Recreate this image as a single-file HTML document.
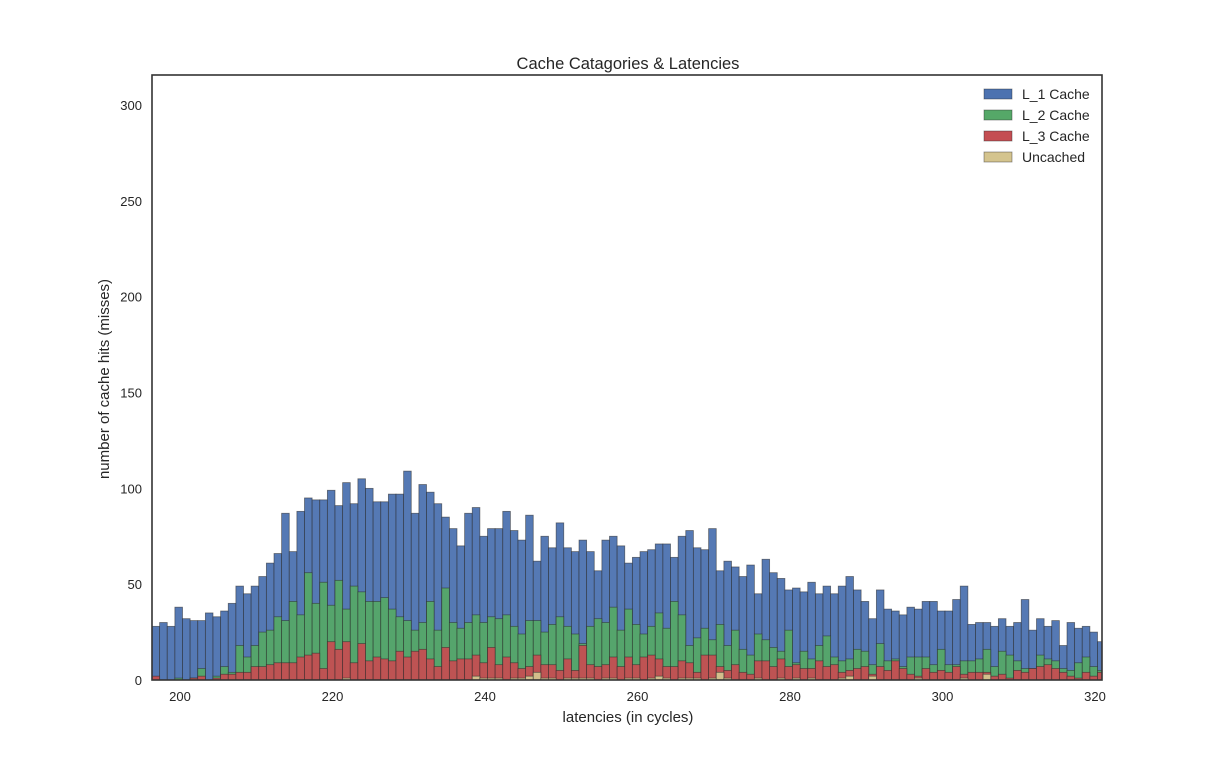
<!DOCTYPE html>
<html><head><meta charset="utf-8"><style>
body{margin:0;background:#fff}
svg text{font-family:"Liberation Sans",sans-serif;fill:#262626}
</style></head><body>
<svg id="chart" width="1225" height="755" xmlns="http://www.w3.org/2000/svg">
<rect width="1225" height="755" fill="#fff"/>
<g id="bars"></g>
<g id="axes"></g>
</svg>
<script>
const binStart = 196.33;
const l1 = [28,30,28,38,32,31,31,35,33,36,40,49,45,49,54,61,66,87,67,88,95,94,94,99,91,103,92,105,100,93,93,97,97,109,87,102,98,92,85,79,70,87,90,75,79,79,88,78,73,86,62,75,69,82,69,67,73,67,57,73,75,70,61,64,67,68,71,71,64,75,78,69,68,79,57,62,59,54,60,45,63,56,53,47,48,46,51,45,49,45,49,54,47,41,32,47,37,36,34,38,37,41,41,36,36,42,49,29,30,30,28,32,28,30,42,26,32,28,31,18,30,27,28,25,20];
const l2 = [1,0,0,1,0,1,6,0,2,7,4,18,12,18,25,26,33,31,41,34,56,40,51,39,52,37,49,46,41,41,43,37,33,31,26,30,41,26,48,30,27,30,34,30,33,32,34,28,24,31,31,25,29,33,28,24,19,28,32,30,38,26,37,29,24,28,35,27,41,34,18,22,27,21,29,18,26,16,13,24,21,17,15,26,9,15,11,18,23,12,10,11,16,15,8,19,10,11,7,12,12,12,8,16,8,8,10,10,11,16,7,15,13,10,6,6,13,11,10,6,5,9,12,7,5];
const l3 = [2,0,0,0,0,1,2,0,1,3,3,4,4,7,7,8,9,9,9,12,13,14,6,20,16,20,9,19,10,12,11,10,15,12,15,16,11,7,17,10,11,11,13,9,17,8,12,9,6,7,13,8,8,5,11,5,18,8,7,8,12,7,12,8,12,13,11,7,7,10,9,4,13,13,7,5,8,4,3,10,10,7,11,7,8,6,6,10,7,8,4,5,6,7,3,7,5,10,6,3,2,6,4,5,4,7,3,4,4,4,2,3,1,5,4,6,7,8,6,4,2,1,4,2,4];
const unc = [0,0,0,0,0,0,0,0,0,0,0,0,0,0,0,0,0,0,0,0,0,0,0,0,0,1,0,0,0,0,0,0,0,0,0,0,0,0,0,0,0,0,2,1,1,1,0,1,1,2,4,1,1,0,1,1,1,1,0,1,1,0,1,1,0,1,2,1,0,1,1,1,0,1,4,1,0,0,0,1,0,0,1,0,1,0,1,0,0,0,1,2,0,0,2,0,0,0,0,0,1,0,0,0,0,0,1,0,0,3,0,0,0,0,0,0,0,0,0,0,0,0,0,0,0];
const xTicks = [200,220,240,260,280,300,320];
const yTicks = [0,50,100,150,200,250,300];
const seriesNames = ["L_1 Cache","L_2 Cache","L_3 Cache","Uncached"];

const NS="http://www.w3.org/2000/svg";
const L=152,R=1102,T=75,B=680, xmin=196.33, xmax=320.92, ymax=315.7;
const sx=v=>L+(v-xmin)/(xmax-xmin)*(R-L);
const sy=v=>B-v/ymax*(B-T);
const colors=["#4c72b0","#55a868","#c44e52","#d4c48e"];
const series=[l1,l2,l3,unc];
function mk(tag,attrs,parent){const e=document.createElementNS(NS,tag);for(const k in attrs)e.setAttribute(k,attrs[k]);parent.appendChild(e);return e;}
const bars=document.getElementById('bars'), axes=document.getElementById('axes');
const clip=mk('clipPath',{id:'pc'},document.getElementById('chart'));
mk('rect',{x:L,y:T,width:R-L,height:B-T},clip);
bars.setAttribute('clip-path','url(#pc)');
series.forEach((s,si)=>{
  s.forEach((v,i)=>{
    if(v<=0)return;
    const x0=sx(binStart+i),x1=sx(binStart+i+1);
    const r=mk('rect',{x:x0,y:sy(v),width:x1-x0,height:B-sy(v),fill:colors[si],'fill-opacity':0.95,stroke:'#2a2a2a','stroke-opacity':0.6,'stroke-width':0.8},bars);
    
    
  });
});
mk('rect',{x:L,y:T,width:R-L,height:B-T,fill:'none',stroke:'#333','stroke-width':1.6},axes);
xTicks.forEach(v=>{const t=mk('text',{x:sx(v),y:701,'text-anchor':'middle','font-size':13},axes);t.textContent=v;
});
yTicks.forEach(v=>{const t=mk('text',{x:142,y:sy(v)+5,'text-anchor':'end','font-size':13},axes);t.textContent=v;
});
let t=mk('text',{x:628,y:69,'text-anchor':'middle','font-size':16.5},axes);t.textContent='Cache Catagories & Latencies';

t=mk('text',{x:628,y:722,'text-anchor':'middle','font-size':15},axes);t.textContent='latencies (in cycles)';

t=mk('text',{x:0,y:0,'text-anchor':'middle','font-size':15,transform:'translate(109,379) rotate(-90)'},axes);t.textContent='number of cache hits (misses)';

seriesNames.forEach((n,i)=>{
  const g=mk('g',{},axes);
  
  
  const y=89+i*21;
  mk('rect',{x:984,y:y,width:28,height:10,fill:colors[i],stroke:'#2a2a2a','stroke-opacity':0.5,'stroke-width':0.8},g);
  const tx=mk('text',{x:1022,y:y+10,'font-size':14},g);tx.textContent=n;
});
</script>
</body></html>
